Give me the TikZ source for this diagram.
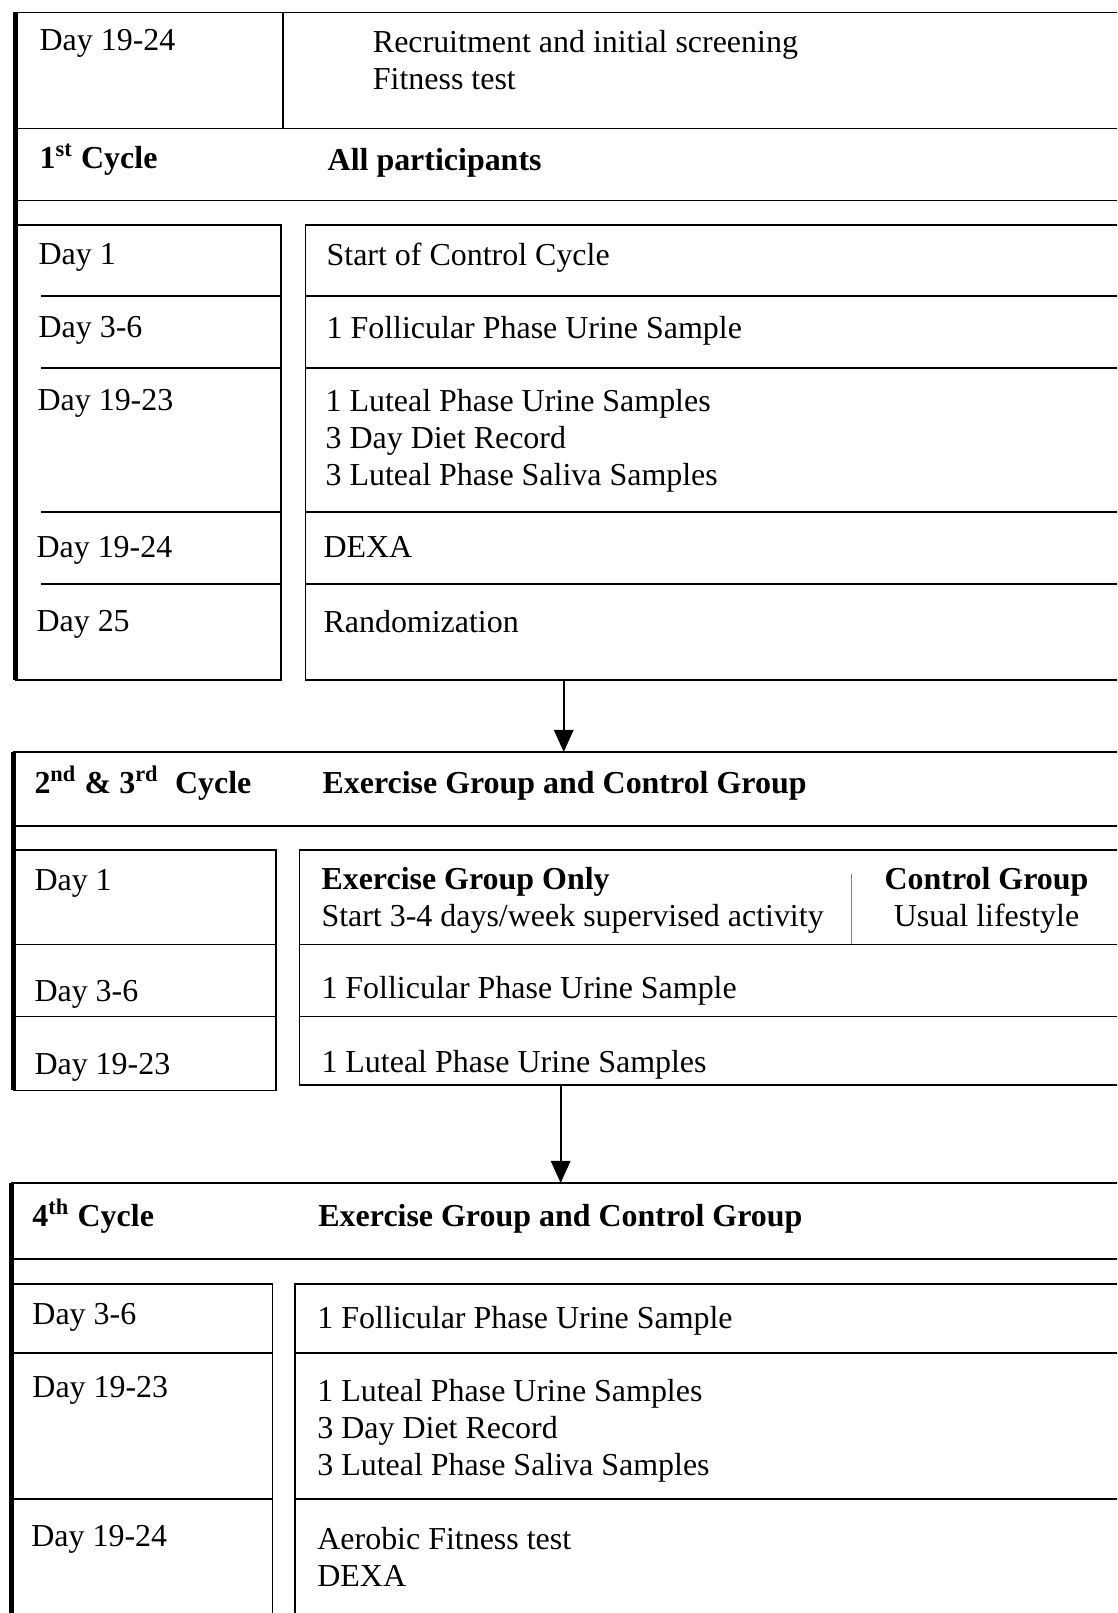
\documentclass[tikz,border=0pt]{standalone}
\usepackage{fontspec}
\setmainfont{Liberation Serif}
\usepackage{tikz}
\usetikzlibrary{arrows.meta}
\tikzstyle{arrow} = [line width=0.8pt,-{Triangle[length=8pt,width=7pt]},color=black]
\tikzstyle{rule} = [line width=0.6pt]
\tikzstyle{spine} = [line width=2pt]
\tikzstyle{entry} = [anchor=north west, inner sep=0pt, align=left, font=\fontsize{11.5}{13.3}\selectfont]
\tikzstyle{head} = [entry, font=\fontsize{11.5}{13.3}\selectfont\bfseries]

\begin{document}
\begin{tikzpicture}[x=0.3703pt, y=-0.3703pt]
\useasboundingbox (0,0) rectangle (1086,1568);
\clip (0,0) rectangle (1086,1568);

% Screening
\draw[rule] (15,12) -- (1095,12);
\draw[rule] (275,12) -- (275,125);
\draw[rule] (15,125) -- (1095,125);
\draw[rule] (15,195) -- (1095,195);
\node[entry] (dayPre) at (38,28) {Day 19-24};
\node[entry] (recruit) at (362,29) {Recruitment and initial screening\\Fitness test};

% 1st cycle
\draw[spine] (15,12) -- (15,661);
\node[head] (cycA) at (38,139) {1\textsuperscript{st} Cycle};
\node[head] (grpA) at (318,144) {All participants};
\draw[rule] (15,219) -- (273,219) -- (273,661) -- (15,661);
\draw[rule] (1095,219) -- (297,219) -- (297,661) -- (1095,661);
\foreach \y in {288,358,498,568} {
  \draw[rule] (40,\y) -- (273,\y);
  \draw[rule] (297,\y) -- (1095,\y);
}
\node[entry] (dayA1) at (37,236) {Day 1};
\node[entry] (dayA2) at (37,307) {Day 3-6};
\node[entry] (dayA3) at (36,378) {Day 19-23};
\node[entry] (dayA4) at (35,521) {Day 19-24};
\node[entry] (dayA5) at (35,593) {Day 25};
\node[entry] (actA1) at (317,236) {Start of Control Cycle};
\node[entry] (actA2) at (317,307) {1 Follicular Phase Urine Sample};
\node[entry] (actA3) at (316,378) {1 Luteal Phase Urine Samples\\3 Day Diet Record\\3 Luteal Phase Saliva Samples};
\node[entry] (actA4) at (314,521) {DEXA};
\node[entry] (actA5) at (314,593) {Randomization};

% 2nd and 3rd cycle
\draw[rule] (13,731) -- (1095,731);
\draw[rule] (13,803) -- (1095,803);
\draw[spine] (13,731) -- (13,1060);
\node[head] (cycB) at (33,744) {2\textsuperscript{nd} \& 3\textsuperscript{rd}\ \ Cycle};
\node[head] (grpB) at (313,749) {Exercise Group and Control Group};
\draw[rule] (13,826) -- (268,826) -- (268,1060) -- (13,1060);
\draw[rule] (1095,826) -- (291,826) -- (291,1055) -- (1095,1055);
\foreach \y in {918,988} {
  \draw[rule] (13,\y) -- (268,\y);
  \draw[rule] (291,\y) -- (1095,\y);
}
\draw[gray, line width=0.4pt] (828,850) -- (828,918);
\node[entry] (dayB1) at (33,845) {Day 1};
\node[entry] (dayB2) at (33,952) {Day 3-6};
\node[entry] (dayB3) at (33,1023) {Day 19-23};
\node[entry] (exOnly) at (312,843) {\textbf{Exercise Group Only}\\Start 3-4 days/week supervised activity};
\node[entry, anchor=north, align=center] (ctrl) at (959,843) {\textbf{Control Group}\\Usual lifestyle};
\node[entry] (actB2) at (312,949) {1 Follicular Phase Urine Sample};
\node[entry] (actB3) at (312,1020) {1 Luteal Phase Urine Samples};

% 4th cycle
\draw[rule] (11,1150) -- (1095,1150);
\draw[rule] (11,1224) -- (1095,1224);
\draw[spine] (11,1150) -- (11,1580);
\node[head] (cycC) at (31,1165) {4\textsuperscript{th} Cycle};
\node[head] (grpC) at (309,1170) {Exercise Group and Control Group};
\draw[rule] (11,1248) -- (265,1248) -- (265,1580);
\draw[rule] (1095,1248) -- (287,1248) -- (287,1580);
\foreach \y in {1315,1457} {
  \draw[rule] (11,\y) -- (265,\y);
  \draw[rule] (287,\y) -- (1095,\y);
}
\node[entry] (dayC1) at (31,1266) {Day 3-6};
\node[entry] (dayC2) at (31,1337) {Day 19-23};
\node[entry] (dayC3) at (30,1482) {Day 19-24};
\node[entry] (actC1) at (308,1269) {1 Follicular Phase Urine Sample};
\node[entry] (actC2) at (308,1340) {1 Luteal Phase Urine Samples\\3 Day Diet Record\\3 Luteal Phase Saliva Samples};
\node[entry] (actC3) at (308,1484) {Aerobic Fitness test\\DEXA};

% Flow
\coordinate (endA) at (548,661);
\coordinate (topB) at (548,731);
\coordinate (endB) at (545,1055);
\coordinate (topC) at (545,1150);
\draw[arrow] (endA) -- (topB);
\draw[arrow] (endB) -- (topC);
\end{tikzpicture}
\end{document}
